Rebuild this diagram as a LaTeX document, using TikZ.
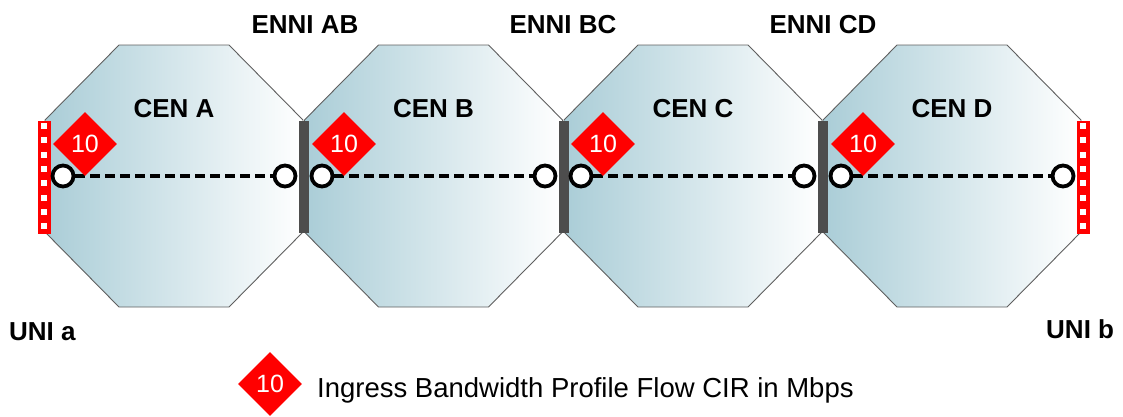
\documentclass[tikz,border=0pt]{standalone}
\usepackage{fontspec}
\setmainfont{Liberation Sans}
\usetikzlibrary{shapes.geometric}
\definecolor{cenblue}{RGB}{170,205,215}
\definecolor{ennigray}{RGB}{77,77,77}
\definecolor{edgegray}{RGB}{95,95,95}
\tikzset{
  cen/.style={draw=edgegray, line width=0.9pt, left color=cenblue, right color=white, shading angle=90},
  ennibar/.style={rectangle, fill=ennigray, minimum width=10, minimum height=112, inner sep=0},
  unibar/.style={rectangle, fill=red, minimum width=13, minimum height=113, inner sep=0},
  port/.style={circle, draw=black, line width=3.8pt, fill=white, minimum size=21, inner sep=0},
  flow/.style={line width=3.5pt, dash pattern=on 10pt off 5pt, black},
  bwp/.style={diamond, fill=red, minimum width=64, minimum height=64, inner sep=0, text=white, font=\fontsize{25}{28}\selectfont},
  lbl/.style={font=\bfseries\fontsize{26}{30}\selectfont, inner sep=0},
}
\newcommand{\octagon}[1]{%
  \path[cen] (#1-55,45) -- (#1+55,45) -- (#1+129,120) -- (#1+129,232) -- (#1+55,307) -- (#1-55,307) -- (#1-129,232) -- (#1-129,120) -- cycle;}
\begin{document}
\begin{tikzpicture}[x=1pt,y=-1pt]
\useasboundingbox (0,0) rectangle (1123,416);
% CENs
\octagon{174}
\octagon{433.5}
\octagon{693}
\octagon{952}
% CEN labels
\node[lbl, anchor=base] (cenA) at (174,117) {CEN A};
\node[lbl, anchor=base] (cenB) at (433.5,117) {CEN B};
\node[lbl, anchor=base] (cenC) at (693,117) {CEN C};
\node[lbl, anchor=base] (cenD) at (952,117) {CEN D};
% ENNI labels
\node[lbl, anchor=base] (lab) at (305,33) {ENNI AB};
\node[lbl, anchor=base] (lbc) at (563,33) {ENNI BC};
\node[lbl, anchor=base] (lcd) at (823,33) {ENNI CD};
% UNI labels
\node[lbl, anchor=base west] (lua) at (9,340) {UNI a};
\node[lbl, anchor=base west] (lub) at (1046,338) {UNI b};
% ENNI bars
\node[ennibar] (eab) at (304,177) {};
\node[ennibar] (ebc) at (563.5,177) {};
\node[ennibar] (ecd) at (823,177) {};
% UNI bars
\node[unibar] (ua) at (44,177) {};
\node[unibar] (ub) at (1083,177) {};
\foreach \yy in {0,...,7}{
  \fill[white] (41,{123+\yy*14.3}) rectangle (47,{129+\yy*14.3});
  \fill[white] (1080,{123+\yy*14.3}) rectangle (1086,{129+\yy*14.3});
}
% ports
\node[port] (a1) at (63,176) {};
\node[port] (a2) at (285,176) {};
\node[port] (b1) at (322,176) {};
\node[port] (b2) at (545,176) {};
\node[port] (c1) at (581,176) {};
\node[port] (c2) at (804,176) {};
\node[port] (d1) at (841,176) {};
\node[port] (d2) at (1063,176) {};
% flows
\draw[flow] (a1) -- (a2);
\draw[flow] (b1) -- (b2);
\draw[flow] (c1) -- (c2);
\draw[flow] (d1) -- (d2);
% bandwidth profiles
\node[bwp] (pa) at (85,144) {10};
\node[bwp] (pb) at (344,144) {10};
\node[bwp] (pc) at (603,144) {10};
\node[bwp] (pd) at (863,144) {10};
% legend
\node[bwp] (leg) at (270,384) {10};
\node[anchor=base west, inner sep=0, font=\fontsize{27.5}{30}\selectfont] (legt) at (317,397) {Ingress Bandwidth Profile Flow CIR in Mbps};
\end{tikzpicture}
\end{document}
